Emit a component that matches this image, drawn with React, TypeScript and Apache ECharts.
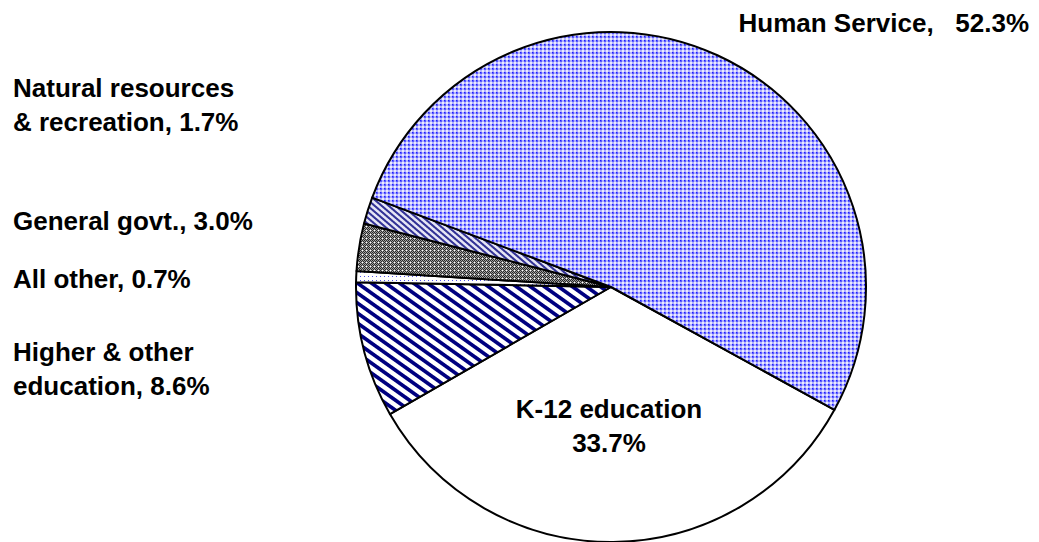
import React, { useEffect, useRef } from "react";
import * as echarts from "echarts";

const categories = [
  "K-12 education",
  "Higher & other education",
  "All other",
  "General govt.",
  "Natural resources & recreation",
  "Human Service",
];
const values = [33.7, 8.6, 0.7, 3.0, 1.7, 52.3];
const labelTexts = [
  "K-12 education\n33.7%",
  "Higher & other\neducation, 8.6%",
  "All other, 0.7%",
  "General govt., 3.0%",
  "Natural resources\n& recreation, 1.7%",
  "Human Service,   52.3%",
];

type Px = [number, number, number];
function makeTile(w: number, h: number, fn: (x: number, y: number) => Px): HTMLCanvasElement {
  const c = document.createElement("canvas");
  c.width = w;
  c.height = h;
  const ctx = c.getContext("2d")!;
  const img = ctx.createImageData(w, h);
  for (let y = 0; y < h; y++) {
    for (let x = 0; x < w; x++) {
      const [r, g, b] = fn(x, y);
      const i = (y * w + x) * 4;
      img.data[i] = r;
      img.data[i + 1] = g;
      img.data[i + 2] = b;
      img.data[i + 3] = 255;
    }
  }
  ctx.putImageData(img, 0, 0);
  return c;
}

function stripeTile(w: number, h: number, frac: number, fg: Px, bg: Px) {
  return makeTile(w, h, (x, y) => {
    let cov = 0;
    const n = 4;
    for (let sy = 0; sy < n; sy++) {
      for (let sx = 0; sx < n; sx++) {
        const px = x + (sx + 0.5) / n;
        const py = y + (sy + 0.5) / n;
        let f = px / w - py / h;
        f = f - Math.floor(f);
        if (f < frac) cov++;
      }
    }
    const a = cov / (n * n);
    return [0, 1, 2].map((k) => Math.round(fg[k] * a + bg[k] * (1 - a))) as Px;
  });
}

function pat(c: HTMLCanvasElement) {
  return { image: c, repeat: "repeat", imageWidth: c.width, imageHeight: c.height } as any;
}

export default function App() {
  const ref = useRef<HTMLDivElement>(null);
  useEffect(() => {
    if (!ref.current) return;
    const chart = echarts.init(ref.current, null, { renderer: "svg" });

    const WHITE: Px = [255, 255, 255];
    const human = makeTile(4, 4, (x, y) => {
      if (x < 2 && y < 2) return x === 0 && y === 0 ? [30, 30, 255] : [90, 90, 255];
      if (x < 2 || y < 2) return [180, 180, 255];
      return [235, 235, 255];
    });
    const natural = stripeTile(7, 6, 0.45, [50, 50, 150], [230, 230, 245]);
    const general = makeTile(4, 4, (x, y) => {
      if (x === 2 && y === 2) return WHITE;
      if ((x + y) % 2 === 0) return [40, 40, 40];
      return [160, 160, 160];
    });
    const allOther = makeTile(4, 4, (x, y) => {
      if (x === 0 && y === 0) return [80, 80, 230];
      return WHITE;
    });
    const higher = stripeTile(14, 10, 0.45, [0, 0, 128], WHITE);

    const fills: any[] = ["#ffffff", pat(higher), pat(allOther), pat(general), pat(natural), pat(human)];

    const labelPos: [number, number, string][] = [
      [609, 426, "center"],
      [13, 369, "left"],
      [13, 279, "left"],
      [13, 221, "left"],
      [13, 105, "left"],
      [1029, 23, "right"],
    ];

    chart.setOption({
      animation: false,
      backgroundColor: "#ffffff",
      series: [
        {
          type: "pie",
          center: [611, 287],
          radius: 255,
          startAngle: -28.8,
          clockwise: true,
          avoidLabelOverlap: false,
          silent: true,
          itemStyle: { borderColor: "#000000", borderWidth: 2 },
          label: {
            show: true,
            position: "outside",
            fontFamily: "Liberation Sans, Arial, sans-serif",
            fontWeight: "bold",
            fontSize: 26,
            lineHeight: 34,
            color: "#000000",
            formatter: (p: any) => labelTexts[p.dataIndex],
          },
          labelLine: { show: false },
          labelLayout: (p: any) => {
            const [x, y, align] = labelPos[p.dataIndex];
            return { x, y, align, verticalAlign: "middle" };
          },
          data: categories.map((name, i) => ({
            name,
            value: values[i],
            itemStyle: { color: fills[i] },
            label: i === 0 ? { align: "center" } : {},
          })),
        },
      ],
    });
    return () => chart.dispose();
  }, []);
  return (
    <div
      ref={ref}
      style={{ position: "absolute", left: 0, top: 0, width: 1039, height: 542 }}
    />
  );
}
